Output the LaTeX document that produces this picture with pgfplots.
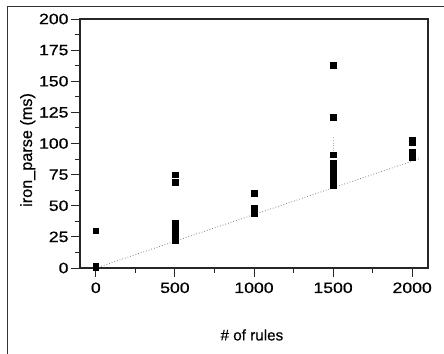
\documentclass[border=0pt]{standalone}
\usepackage{fontspec}
\setmainfont{Liberation Sans}[FakeBold=0.4]
\newfontfamily\tickfont[FakeStretch=1.18,FakeBold=0.6]{Liberation Sans}
\newfontfamily\labfont[FakeBold=0.5]{Liberation Sans}
\usepackage{pgfplots}
\pgfplotsset{compat=1.18}
\begin{document}
\begin{tikzpicture}
\useasboundingbox (-80bp,-86bp) rectangle (364bp,268bp);
\draw[black!80, line width=1pt] (-73bp,-86bp) -- (-73bp,261bp) -- (364bp,261bp);
\begin{axis}[
  at={(0,0)}, anchor=south west,
  scale only axis, width=348bp, height=249bp,
  xmin=-100, xmax=2100, ymin=0, ymax=200,
  xtick={0,500,1000,1500,2000},
  minor xtick={250,750,1250,1750},
  ytick={0,25,...,200},
  minor ytick={12.5,37.5,...,187.5},
  tick align=outside,
  xtick pos=bottom, ytick pos=left,
  major tick length=9bp, minor tick length=5bp,
  every tick/.style={black!85, line width=1pt},
  axis line style={black!85, line width=1.2pt},
  /pgf/number format/assume math mode=true,
  /pgf/number format/1000 sep={},
  tick label style={font=\tickfont\fontsize{15}{17}\selectfont},
  xticklabel style={yshift=-2bp},
  yticklabel style={xshift=1bp},
  xlabel={\# of rules},
  ylabel={iron\_parse (ms)},
  xlabel style={font=\labfont\fontsize{15.3}{17}\selectfont, at={(axis description cs:0.494,-0.269)}, anchor=center},
  ylabel style={font=\labfont\fontsize{16.3}{18}\selectfont, at={(axis description cs:-0.150,0.474)}, anchor=center},
  clip=false,
]
\addplot[gray, dotted, line width=0.8pt] coordinates {(0,0) (2050,88)};
\addplot[gray!60, dotted, line width=0.6pt] coordinates {(1500,92) (1500,106)};
\addplot[only marks, mark=square*, mark size=2.8bp, black] coordinates {
(0,30) (0,2) (0,1) (0,0.5)
(500,75) (500,69)
(500,36) (500,34) (500,32) (500,30) (500,28) (500,26) (500,24) (500,22)
(1000,60) (1000,48) (1000,46) (1000,44)
(1500,163) (1500,121) (1500,91)
(1500,84) (1500,82) (1500,80) (1500,78) (1500,76) (1500,74) (1500,72) (1500,70) (1500,68) (1500,66)
(2000,103) (2000,101) (2000,93) (2000,91) (2000,89)
};
\end{axis}
\end{tikzpicture}
\end{document}
